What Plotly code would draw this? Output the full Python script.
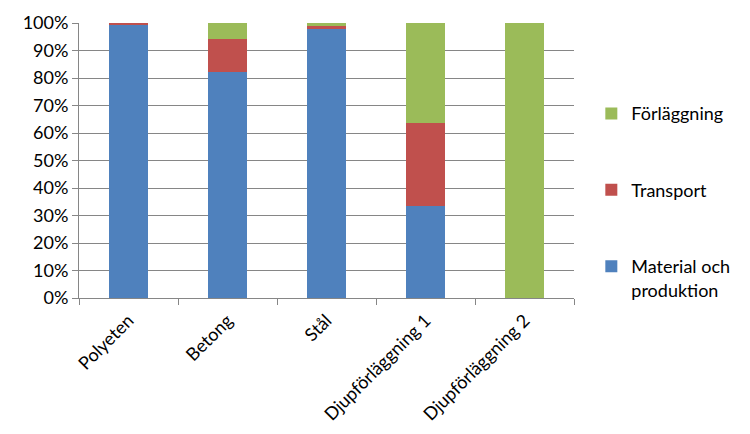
import plotly.graph_objs as go

# data (percent of total per category)
categories = ['Polyeten', 'Betong', 'Stål', 'Djupförläggning 1', 'Djupförläggning 2']
material = [99.2, 82.3, 97.8, 33.6, 0.0]
transport = [0.8, 11.9, 1.2, 29.9, 0.0]
forlaggning = [0.0, 5.8, 1.0, 36.5, 100.0]

# name, values, colour, legend rank (top to bottom)
series = [
    ('Material och<br>produktion', material, '#4F81BD', 3),
    ('Transport', transport, '#C0504D', 2),
    ('Förläggning', forlaggning, '#9BBB59', 1),
]

fig = go.Figure()
for name, vals, color, rank in series:
    fig.add_trace(go.Bar(x=categories, y=vals, name=name, marker_color=color,
                         marker_line_width=0, width=0.4, legendgroup=name, legendrank=rank))

# page body has an 8px margin, so the figure is a bit smaller than the window
grey = '#868686'
fig.update_layout(
    barmode='stack',
    width=742, height=426,
    margin=dict(l=71, r=176, t=15, b=136),
    paper_bgcolor='white', plot_bgcolor='white',
    font=dict(family='Lato, Liberation Sans, sans-serif', size=18, color='#000000'),
    showlegend=True,
    legend=dict(traceorder='grouped', x=1.035, xanchor='left', y=0.35, yanchor='middle',
                tracegroupgap=50, valign='top', font=dict(size=18)),
)
fig.update_yaxes(range=[0, 100], dtick=10, ticksuffix='%', showgrid=True, gridcolor=grey,
                 gridwidth=1, showline=True, linecolor=grey, ticks='outside', tickcolor=grey,
                 ticklen=6, zeroline=False, automargin=False)
fig.update_xaxes(tickangle=-45, showline=True, linecolor=grey, ticks='outside', tickcolor=grey,
                 ticklen=6, tickson='boundaries', ticklabelstandoff=4, automargin=False)

fig.write_html('out.html')
